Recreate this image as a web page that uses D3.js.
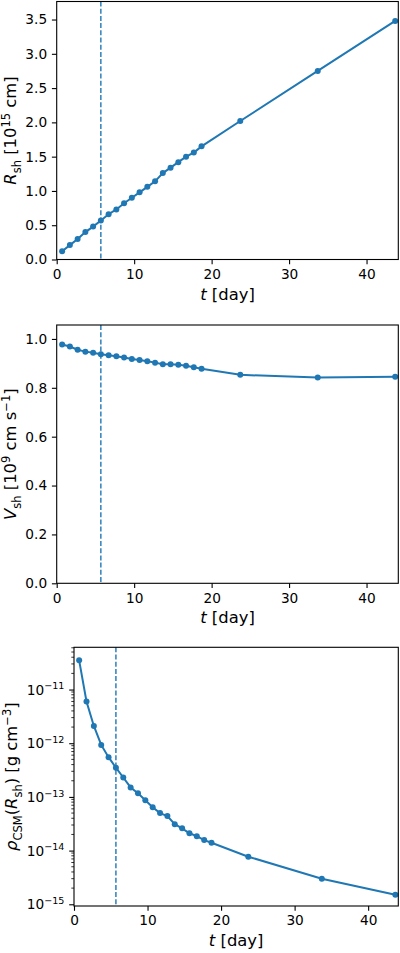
<!DOCTYPE html>
<html>
<head>
<meta charset="utf-8">
<script src="https://cdn.jsdelivr.net/npm/d3@7"></script>
<style>
  body { margin: 0; background: #fff; }
  svg { display: block; font-family: "DejaVu Sans", sans-serif; }
</style>
</head>
<body>
<div id="chart"></div>
<script>
// data
const tDays = [0.7, 1.7, 2.7, 3.7, 4.7, 5.7, 6.7, 7.7, 8.7, 9.7, 10.7, 11.7, 12.7, 13.7, 14.7, 15.7, 16.7, 17.7, 18.7, 23.7, 33.7, 43.7];
const rSh = [0.12, 0.21, 0.30, 0.40, 0.48, 0.57, 0.66, 0.73, 0.82, 0.90, 0.98, 1.06, 1.14, 1.26, 1.34, 1.42, 1.50, 1.56, 1.65, 2.02, 2.75, 3.48];
const vSh = [0.977, 0.969, 0.956, 0.948, 0.943, 0.937, 0.933, 0.929, 0.924, 0.918, 0.914, 0.909, 0.903, 0.896, 0.896, 0.894, 0.890, 0.884, 0.878, 0.853, 0.842, 0.845];
const rhoCsm = [3.5e-11, 6.0e-12, 2.1e-12, 9.3e-13, 5.5e-13, 3.5e-13, 2.3e-13, 1.5e-13, 1.17e-13, 8.7e-14, 6.4e-14, 5.0e-14, 4.4e-14, 3.1e-14, 2.6e-14, 2.1e-14, 1.86e-14, 1.57e-14, 1.4e-14, 7.7e-15, 3.0e-15, 1.5e-15];
const tDash = 5.7;

const xTicks = [0, 10, 20, 30, 40];
const rTicks = [0, 0.5, 1.0, 1.5, 2.0, 2.5, 3.0, 3.5];
const vTicks = [0, 0.2, 0.4, 0.6, 0.8, 1.0];
const rhoExp = [-15, -14, -13, -12, -11];

const blue = "#1f77b4";
const tickFont = 13.7, labelFont = 16.4;
const tickLen = 4.8, tickPad = 4.8;

const svg = d3.select("#chart").append("svg")
  .attr("width", 400)
  .attr("height", 953);

// label pieces: [text, style] with style "i" italic, "sub", "sup", or ""
function richText(sel, parts, size) {
  let shift = 0;
  parts.forEach(([txt, st]) => {
    let target = st === "sub" ? 0.28 * size : st === "sup" ? -0.38 * size : 0;
    let ts = sel.append("tspan").text(txt)
      .attr("dy", target - shift);
    shift = target;
    if (st === "sub" || st === "sup") ts.attr("font-size", size * 0.7);
    if (st === "i") ts.attr("font-style", "italic");
  });
}

function panel(cfg) {
  let g = svg.append("g");
  let x = d3.scaleLinear().domain([0, 44.1]).range([cfg.left, 398.3]);
  let y = cfg.y;

  // dashed marker line
  g.append("line")
    .attr("x1", x(tDash)).attr("x2", x(tDash))
    .attr("y1", cfg.top).attr("y2", cfg.bottom)
    .attr("stroke", blue).attr("stroke-width", 1.4)
    .attr("stroke-dasharray", "5,2.2");

  let pts = tDays.map((t, i) => [t, cfg.values[i]]);
  g.append("path")
    .attr("d", d3.line().x(d => x(d[0])).y(d => y(d[1]))(pts))
    .attr("fill", "none").attr("stroke", blue).attr("stroke-width", 2);
  g.selectAll("circle.pt").data(pts).enter().append("circle")
    .attr("class", "pt")
    .attr("cx", d => x(d[0])).attr("cy", d => y(d[1]))
    .attr("r", 3).attr("fill", blue);

  // x axis
  let xa = g.append("g")
    .attr("transform", `translate(0,${cfg.bottom})`)
    .call(d3.axisBottom(x).tickValues(xTicks).tickSize(tickLen).tickPadding(tickPad).tickFormat(d3.format("d")));
  xa.select(".domain").remove();
  xa.selectAll("text").attr("font-size", tickFont).attr("fill", "#000").attr("font-family", "DejaVu Sans");
  xa.selectAll("line").attr("stroke", "#000").attr("stroke-width", 1.1);

  // y axis
  let ya = g.append("g")
    .attr("transform", `translate(${cfg.left},0)`)
    .call(cfg.yAxis);
  ya.select(".domain").remove();
  ya.selectAll("text").attr("font-size", tickFont).attr("fill", "#000").attr("font-family", "DejaVu Sans");
  ya.selectAll("line").attr("stroke", "#000").attr("stroke-width", 1.1);
  if (cfg.after) cfg.after(g, y);

  // frame
  g.append("rect")
    .attr("x", cfg.left).attr("y", cfg.top)
    .attr("width", 398.3 - cfg.left).attr("height", cfg.bottom - cfg.top)
    .attr("fill", "none").attr("stroke", "#000").attr("stroke-width", 1.1);

  // x label
  let xl = g.append("text")
    .attr("x", (cfg.left + 398.3) / 2).attr("y", cfg.bottom + 40)
    .attr("text-anchor", "middle").attr("font-size", labelFont);
  richText(xl, [["t", "i"], [" [day]", ""]], labelFont);

  // y label
  let yl = g.append("text")
    .attr("transform", `translate(${cfg.ylx},${(cfg.top + cfg.bottom) / 2}) rotate(-90)`)
    .attr("text-anchor", "middle").attr("font-size", labelFont);
  richText(yl, cfg.ylabel, labelFont);
}

// panel 1: shock radius
let y1 = d3.scaleLinear().domain([0, 3.763]).range([259.5, 1.5]);
panel({
  left: 56.7, top: 1.5, bottom: 259.5, y: y1, values: rSh, ylx: 16,
  yAxis: d3.axisLeft(y1).tickValues(rTicks).tickSize(tickLen).tickPadding(tickPad).tickFormat(d3.format(".1f")),
  ylabel: [["R", "i"], ["sh", "sub"], [" [10", ""], ["15", "sup"], [" cm]", ""]]
});

// panel 2: shock velocity
let y2 = d3.scaleLinear().domain([0, 1.057]).range([583.3, 325]);
panel({
  left: 56.7, top: 325, bottom: 583.3, y: y2, values: vSh, ylx: 16,
  yAxis: d3.axisLeft(y2).tickValues(vTicks).tickSize(tickLen).tickPadding(tickPad).tickFormat(d3.format(".1f")),
  ylabel: [["V", "i"], ["sh", "sub"], [" [10", ""], ["9", "sup"], [" cm s", ""], ["\u22121", "sup"], ["]", ""]]
});

// panel 3: CSM density (log)
let y3 = d3.scaleLog().domain([Math.pow(10, -15.032), Math.pow(10, -10.213)]).range([906, 647.3]);
let minorTicks = [];
[-16, -15, -14, -13, -12, -11].forEach(e => {
  for (let m = 2; m <= 9; m++) {
    let v = m * Math.pow(10, e);
    if (v > y3.domain()[0] && v < y3.domain()[1]) minorTicks.push(v);
  }
});
panel({
  left: 74, top: 647.3, bottom: 906, y: y3, values: rhoCsm, ylx: 17,
  yAxis: d3.axisLeft(y3).tickValues(rhoExp.map(e => Math.pow(10, e))).tickSize(tickLen).tickFormat(""),
  after: (g, y) => {
    g.append("g").selectAll("line").data(minorTicks).enter().append("line")
      .attr("x1", 74 - 2.7).attr("x2", 74)
      .attr("y1", d => y(d)).attr("y2", d => y(d))
      .attr("stroke", "#000").attr("stroke-width", 0.8);
    rhoExp.forEach(e => {
      let t = g.append("text")
        .attr("x", 74 - tickLen - tickPad).attr("y", y(Math.pow(10, e)) + 5)
        .attr("text-anchor", "end").attr("font-size", tickFont);
      richText(t, [["10", ""], ["\u2212" + Math.abs(e), "sup"]], tickFont);
    });
  },
  ylabel: [["\u03c1", "i"], ["CSM", "sub"], ["(", ""], ["R", "i"], ["sh", "sub"], [") [g cm", ""], ["\u22123", "sup"], ["]", ""]]
});
</script>
</body>
</html>
